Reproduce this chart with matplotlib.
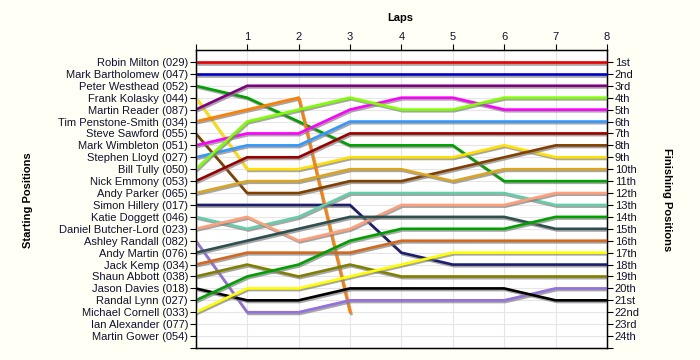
import matplotlib
matplotlib.use("Agg")
from matplotlib import pyplot as plt
import matplotlib.patheffects as pe

plt.rcParams['font.family'] = ['Liberation Sans', 'DejaVu Sans']

laps = [0, 1, 2, 3, 4, 5, 6, 7, 8]

drivers = ['Robin Milton (029)', 'Mark Bartholomew (047)', 'Peter Westhead (052)',
           'Frank Kolasky (044)', 'Martin Reader (087)', 'Tim Penstone-Smith (034)',
           'Steve Sawford (055)', 'Mark Wimbleton (051)', 'Stephen Lloyd (027)',
           'Bill Tully (050)', 'Nick Emmony (053)', 'Andy Parker (065)',
           'Simon Hillery (017)', 'Katie Doggett (046)', 'Daniel Butcher-Lord (023)',
           'Ashley Randall (082)', 'Andy Martin (076)', 'Jack Kemp (034)',
           'Shaun Abbott (038)', 'Jason Davies (018)', 'Randal Lynn (027)',
           'Michael Cornell (033)', 'Ian Alexander (077)', 'Martin Gower (054)']

# position after each lap (lap 0 = grid); shorter list = retired
positions = [
    [1, 1, 1, 1, 1, 1, 1, 1, 1],
    [2, 2, 2, 2, 2, 2, 2, 2, 2],
    [3, 4, 6, 8, 8, 8, 11, 11, 11],
    [4, 10, 10, 9, 9, 9, 8, 9, 9],
    [5, 3, 3, 3, 3, 3, 3, 3, 3],
    [6, 5, 4, 22],
    [7, 12, 12, 11, 11, 10, 9, 8, 8],
    [8, 7, 7, 5, 4, 4, 5, 5, 5],
    [9, 8, 8, 6, 6, 6, 6, 6, 6],
    [10, 6, 5, 4, 5, 5, 4, 4, 4],
    [11, 9, 9, 7, 7, 7, 7, 7, 7],
    [12, 11, 11, 10, 10, 11, 10, 10, 10],
    [13, 13, 13, 13, 17, 18, 18, 18, 18],
    [14, 15, 14, 12, 12, 12, 12, 13, 13],
    [15, 14, 16, 15, 13, 13, 13, 12, 12],
    [16, 22, 22, 21, 21, 21, 21, 20, 20],
    [17, 16, 15, 14, 14, 14, 14, 15, 15],
    [18, 17, 17, 17, 16, 16, 16, 16, 16],
    [19, 18, 19, 18, 19, 19, 19, 19, 19],
    [20, 21, 21, 20, 20, 20, 20, 21, 21],
    [21, 19, 18, 16, 15, 15, 15, 14, 14],
    [22, 20, 20, 19, 18, 17, 17, 17, 17],
    [],
    [],
]

colors = ['#E80000', '#0000CC', '#00A000', '#FFE000', '#800080', '#FF8000',
          '#804000', '#FF00FF', '#3399FF', '#80FF00', '#990000', '#DAA520',
          '#1E1E6E', '#66CDAA', '#FFA07A', '#9370DB', '#2F4F4F', '#D2691E',
          '#808000', '#000000', '#00A000', '#FFFF00', '#999999', '#999999']

finish_labels = ['1st', '2nd', '3rd'] + ['%dth' % i for i in range(4, 21)] + \
                ['21st', '22nd', '23rd', '24th']

bg = '#FFFFF5'
txt = '#101030'

fig = plt.figure(figsize=(7, 3.6), dpi=100, facecolor=bg)
ax = fig.add_axes([0.2796, 0.0333, 0.5875, 0.8278])
ax.set_facecolor('white')

shadow = [pe.SimpleLineShadow(offset=(1.0, -1.2), shadow_color='#808080', alpha=0.7),
          pe.Normal()]

for pos, col in zip(positions, colors):
    if not pos:
        continue
    ax.plot(laps[:len(pos)], pos, color=col, lw=1.9, solid_joinstyle='miter',
            path_effects=shadow, zorder=3)

ax.set_xlim(0, 8)
ax.set_ylim(25, 0)

ax.xaxis.tick_top()
ax.set_xticks(laps)
ax.set_xticklabels([''] + [str(l) for l in laps[1:]])
ax.set_yticks(range(1, 26))
ax.set_yticklabels(drivers + [''])

ax.grid(True, color='#E6E6E6', lw=0.8, zorder=0)
ax.tick_params(axis='both', direction='out', length=4, width=0.8, colors='black',
               labelsize=8, labelcolor=txt, pad=1.5)
for s in ax.spines.values():
    s.set_linewidth(1.0)

ax2 = ax.twinx()
ax2.set_ylim(25, 0)
ax2.set_yticks(range(1, 26))
ax2.set_yticklabels(finish_labels + [''])
ax2.tick_params(axis='y', direction='out', length=4, width=0.8, labelsize=8,
                labelcolor=txt, pad=1.5)

fig.text(400.7 / 700, 1 - 18 / 360, 'Laps', ha='center', va='center',
         fontsize=8, fontweight='bold', color='black')
fig.text(28 / 700, 0.445, 'Starting Positions', ha='center', va='center',
         rotation=90, fontsize=8, fontweight='bold', color='black')
fig.text(667 / 700, 0.445, 'Finishing Positions', ha='center', va='center',
         rotation=270, fontsize=8, fontweight='bold', color='black')

fig.savefig('out.png', dpi=100, facecolor=bg)
